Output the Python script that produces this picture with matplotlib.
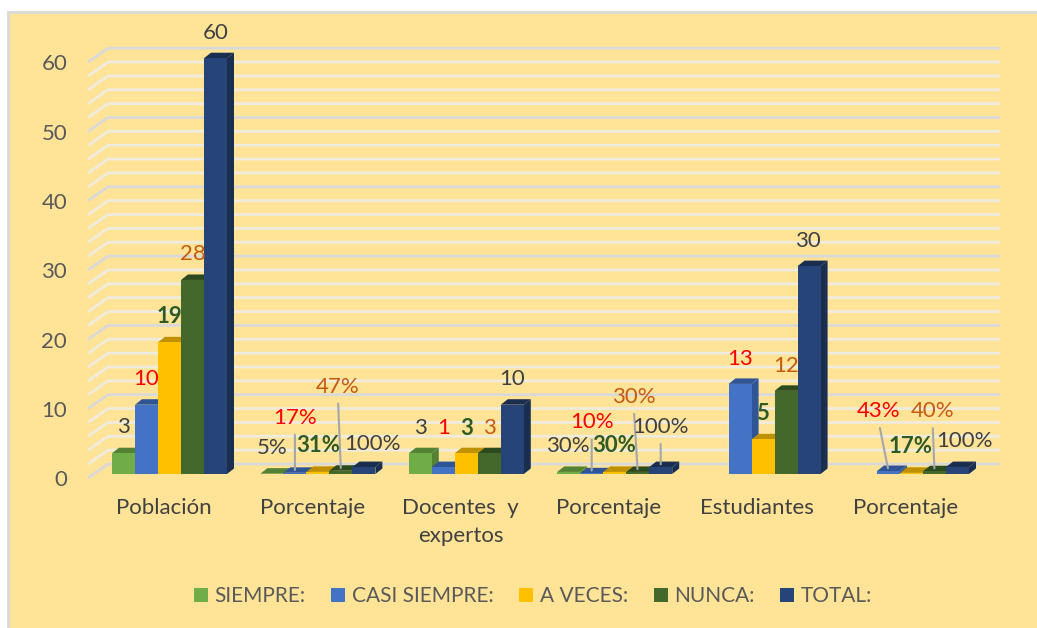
import matplotlib
matplotlib.use('Agg')
from matplotlib import pyplot as plt
from matplotlib.patches import Polygon, Rectangle
from matplotlib.transforms import ScaledTranslation

plt.rcParams['font.family'] = ['Lato', 'DejaVu Sans']

grupos = ['Población', 'Porcentaje', 'Docentes  y\nexpertos', 'Porcentaje', 'Estudiantes', 'Porcentaje']
series = ['SIEMPRE:', 'CASI SIEMPRE:', 'A VECES:', 'NUNCA:', 'TOTAL:']

siempre = [3, 0.05, 3, 0.3, 0, 0]
casi_siempre = [10, 0.17, 1, 0.1, 13, 0.43]
a_veces = [19, 0.31, 3, 0.3, 5, 0.17]
nunca = [28, 0.47, 3, 0.3, 12, 0.40]
total = [60, 1, 10, 1, 30, 1]
valores = [siempre, casi_siempre, a_veces, nunca, total]

etiquetas = [
    ['3', '5%', '3', '30%', '', ''],
    ['10', '17%', '1', '10%', '13', '43%'],
    ['19', '31%', '3', '30%', '5', '17%'],
    ['28', '47%', '3', '30%', '12', '40%'],
    ['60', '100%', '10', '100%', '30', '100%'],
]

colores = ['#70AD47', '#4472C4', '#FFC000', '#43682B', '#264478']
techos = ['#548235', '#2F5597', '#BF9000', '#2C4A1E', '#1A2E50']
col_etiq = ['#404040', '#FF0000', '#2F5A26', '#C55A11', '#404040']

# label offsets from the bar top, in pixels (right, up)
desp = [
    [(0, 26), (0, 26), (0, 25), (-1, 26), None, None],
    [(0, 26), (0, 55), (0, 39), (0, 51), (0, 25), (-10, 60)],
    [(0, 26), (0, 26), (0, 25), (-1, 26), (-1, 26), (-1, 26)],
    [(0, 26), (-3, 84), (0, 25), (-4, 75), (0, 25), (-2, 60)],
    [(0, 25), (9, 23), (0, 26), (0, 40), (-1, 25), (7, 26)],
]
guias = [(1, 1), (3, 1), (1, 3), (3, 3), (4, 3), (1, 5), (3, 5)]

W, H = 1037, 628
BAR = 23.0
PX_Y = 6.93
PASO = 148.4 / BAR
DX = 7 / BAR
DY = 5.5 / PX_Y

fig = plt.figure(figsize=(W / 100, H / 100), dpi=100, facecolor='white')
fig.add_artist(Rectangle((8 / W, -0.02), 1.02 - 8 / W, 1.02 - 12 / H, transform=fig.transFigure,
                         facecolor='#FFE497', edgecolor='#D9D9D9', linewidth=2, zorder=-1))

ax = fig.add_axes([88 / W, 1 - 474 / H, 912 / W, 62 * PX_Y / H])
ax.patch.set_visible(False)
ax.set_xlim(-24 / BAR, 888 / BAR)
ax.set_ylim(0, 62)
for s in ax.spines.values():
    s.set_visible(False)

# floor-to-wall gridlines
for v in range(0, 61, 2):
    c = '#D9D9D9' if v % 10 == 0 else '#EFEBDD'
    ax.plot([-24 / BAR, -4 / BAR, 888 / BAR],
            [v - 4 / PX_Y, v + 10 / PX_Y, v + 10 / PX_Y],
            color=c, lw=2, clip_on=False, zorder=1, solid_capstyle='butt')

for j, vals in enumerate(valores):
    xs = [i * PASO + j for i in range(len(grupos))]
    for x, v in zip(xs, vals):
        if v > 0:
            ax.add_patch(Polygon([(x + 1, 0), (x + 1 + DX, DY), (x + 1 + DX, v + DY), (x + 1, v)],
                                 facecolor=techos[j], edgecolor='none', zorder=2 + j, clip_on=False))
            ax.add_patch(Polygon([(x, v), (x + DX, v + DY), (x + 1 + DX, v + DY), (x + 1, v)],
                                 facecolor=techos[j], edgecolor='none', zorder=2 + j, clip_on=False))
    ax.bar(xs, vals, width=1, align='edge', color=colores[j], label=series[j], zorder=2 + j + 0.5, clip_on=False)

for j, vals in enumerate(valores):
    for i, v in enumerate(vals):
        if desp[j][i] is None:
            continue
        flecha = None
        if (j, i) in guias:
            flecha = dict(arrowstyle='-', color='#A6A6A6', lw=1.5, shrinkA=3, shrinkB=2, relpos=(0.5, 0))
        ax.annotate(etiquetas[j][i], xy=(i * PASO + j + 0.5, v),
                    xytext=(desp[j][i][0] * 0.72, desp[j][i][1] * 0.72), textcoords='offset points',
                    ha='center', va='center', fontsize=16, color=col_etiq[j],
                    fontweight='bold' if j == 2 else 'normal', arrowprops=flecha, zorder=20)

ax.set_xticks([i * PASO + 2.25 for i in range(len(grupos))])
ax.set_xticklabels(grupos, fontsize=16, color='#404040', linespacing=1.5)
ax.set_yticks(range(0, 61, 10))
ax.tick_params(axis='both', length=0)
ax.tick_params(axis='x', pad=17)
ax.tick_params(axis='y', labelsize=16, labelcolor='#595959', pad=15)
bajar = ScaledTranslation(0, -3 / 72, fig.dpi_scale_trans)
for t in ax.get_yticklabels():
    t.set_transform(t.get_transform() + bajar)

fig.legend(*ax.get_legend_handles_labels(), loc='center', bbox_to_anchor=(533 / W, 1 - 596 / H), ncol=5,
           frameon=False, fontsize=15, labelcolor='#595959', handlelength=0.67, handleheight=0.67,
           handletextpad=0.3, columnspacing=1.25, borderpad=0)

fig.savefig('out.png', dpi=100)
